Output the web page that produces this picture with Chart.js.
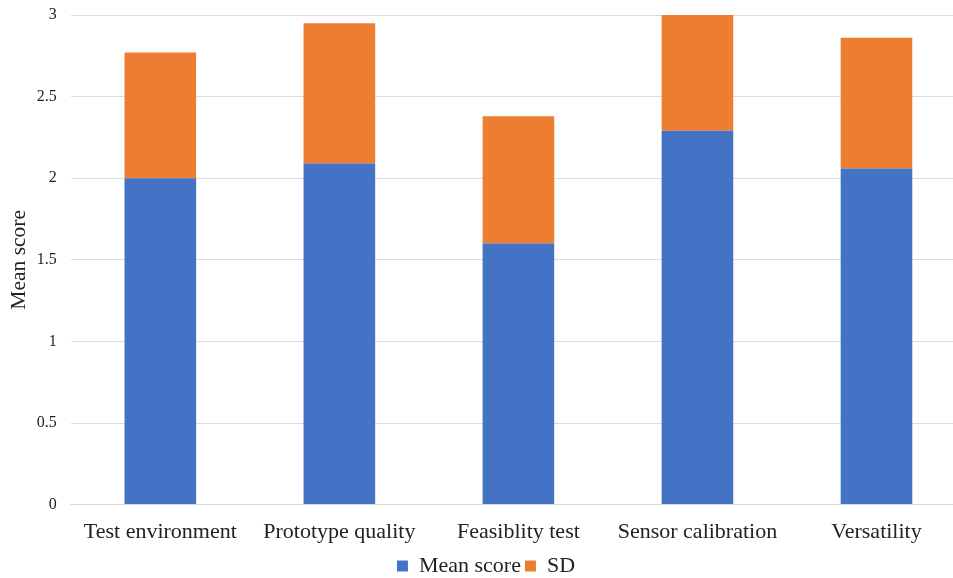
<!DOCTYPE html>
<html>
<head>
<meta charset="utf-8">
<script src="https://cdn.jsdelivr.net/npm/chart.js@4"></script>
<style>
  html, body { margin: 0; padding: 0; background: #fff; overflow: hidden; }
  #wrap { width: 968px; height: 578px; }
</style>
</head>
<body>
<div id="wrap"><canvas id="c" width="968" height="578"></canvas></div>
<script>
const categories = ["Test environment", "Prototype quality", "Feasiblity test", "Sensor calibration", "Versatility"];
const meanScores = [2.00, 2.09, 1.60, 2.29, 2.06];
const sdValues = [0.77, 0.86, 0.78, 0.71, 0.80];
const yTicks = [0, 0.5, 1, 1.5, 2, 2.5, 3];

const serif = "'Liberation Serif', 'Times New Roman', serif";

new Chart(document.getElementById('c'), {
  type: 'bar',
  data: {
    labels: categories,
    datasets: [
      { label: 'Mean score', data: meanScores, backgroundColor: '#4472C4', borderWidth: 0 },
      { label: 'SD', data: sdValues, backgroundColor: '#ED7D31', borderWidth: 0 }
    ]
  },
  options: {
    responsive: false,
    animation: false,
    layout: { padding: { top: 15, left: 6, right: 2, bottom: -9 } },
    datasets: { bar: { barPercentage: 0.4, categoryPercentage: 1.0 } },
    scales: {
      x: {
        stacked: true,
        grid: { display: false },
        border: { color: '#d9d9d9' },
        ticks: { color: '#222', font: { family: serif, size: 22 }, padding: 6 }
      },
      y: {
        stacked: true,
        min: 0,
        max: 3,
        afterBuildTicks: (axis) => { axis.ticks = yTicks.map(v => ({ value: v })); },
        afterFit: (axis) => { axis.paddingTop = 0; axis.paddingBottom = 0; },
        grid: { color: '#dcdcdc', drawTicks: false },
        border: { display: false },
        ticks: { color: '#222', font: { family: serif, size: 16 }, padding: 14, callback: (v) => String(v) },
        title: { display: true, text: 'Mean score', color: '#222', font: { family: serif, size: 21.5 }, padding: { top: 0, bottom: -9 } }
      }
    },
    plugins: {
      legend: {
        position: 'bottom',
        labels: { color: '#222', font: { family: serif, size: 22 }, boxWidth: 11, boxHeight: 11, padding: 4 }
      },
      tooltip: { enabled: false }
    }
  }
});
</script>
</body>
</html>
